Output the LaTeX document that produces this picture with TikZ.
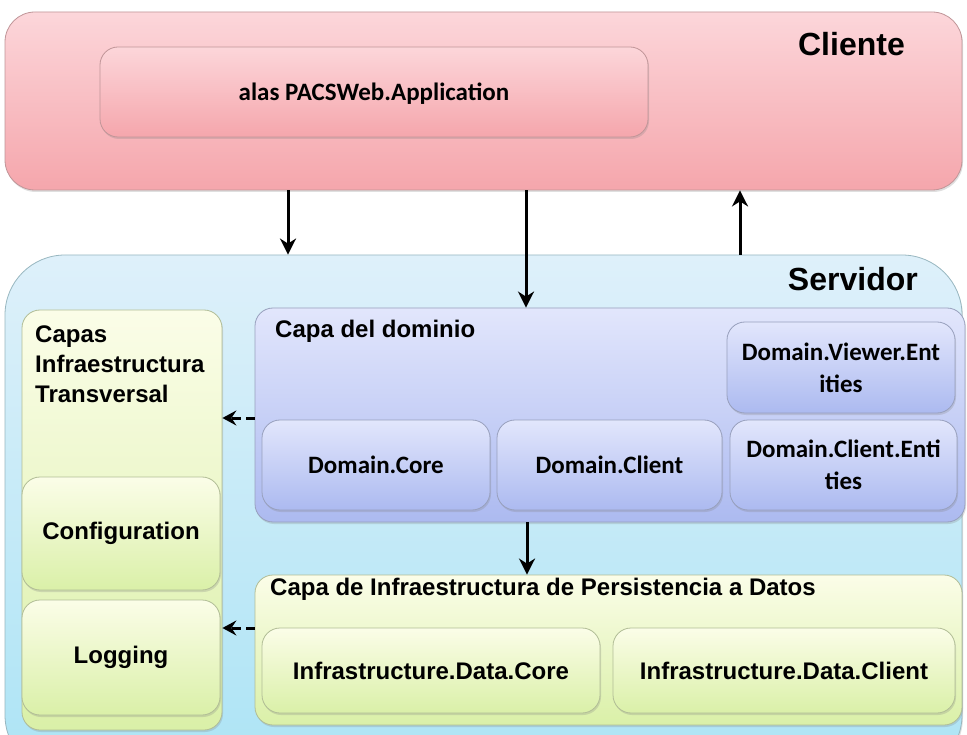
\documentclass[tikz,border=0pt]{standalone}
\usepackage{fontspec}
\setmainfont{Liberation Sans}
\newfontfamily\calibri{Carlito}
\usepackage{tikz}
\usetikzlibrary{arrows.meta,shadows}

\definecolor{rosaA}{RGB}{252,214,218}
\definecolor{rosaB}{RGB}{245,166,172}
\definecolor{celesteA}{RGB}{222,240,250}
\definecolor{celesteB}{RGB}{172,228,245}
\definecolor{lilaA}{RGB}{226,230,252}
\definecolor{lilaB}{RGB}{172,186,240}
\definecolor{verdeA}{RGB}{251,253,232}
\definecolor{verdeB}{RGB}{218,240,168}

\tikzset{
	caja/.style={inner sep=0pt, rounded corners=18pt, draw=#1!55!gray, line width=0.8pt,
		drop shadow={shadow xshift=1pt, shadow yshift=-2pt, opacity=0.25}},
	roja/.style={caja=rosaB, top color=rosaA, bottom color=rosaB},
	azul/.style={caja=lilaB, top color=lilaA, bottom color=lilaB},
	verde/.style={caja=verdeB, top color=verdeA, bottom color=verdeB},
	titulo/.style={anchor=north west, inner sep=0pt, font=\bfseries\fontsize{24}{28}\selectfont},
	grande/.style={anchor=north east, inner sep=0pt, font=\bfseries\fontsize{32}{36}\selectfont},
	letra/.style={font=\bfseries\fontsize{24}{28}\selectfont},
	letrad/.style={align=center, font=\calibri\bfseries\fontsize{25}{32}\selectfont},
	flecha/.style={line width=3pt, -{Stealth[length=16pt, width=16pt, inset=5pt]}},
	punteada/.style={line width=3pt, dash pattern=on 9pt off 5pt, -{Stealth[length=14pt, width=15pt, inset=5pt]}}
}

\begin{document}
\begin{tikzpicture}[x=1pt, y=-1pt]
	\clip (0,0) rectangle (967,735);
	\fill [white] (0,0) rectangle (967,735);
	
	% cliente
	\node [roja, rounded corners=30pt, minimum width=957pt, minimum height=178pt] (cliente) at (483.5,101) {};
	\node [roja, minimum width=548pt, minimum height=90pt, letrad, text depth=0pt] (app) at (374,92) {alas PACSWeb.Application};
	\node [grande] (tcliente) at (905,32) {Cliente};
	
	% servidor
	\node [caja=celesteB, top color=celesteA, bottom color=celesteB, rounded corners=60pt, minimum width=957pt, minimum height=520pt] (servidor) at (483.5,515) {};
	\node [grande] (tservidor) at (918,267) {Servidor};
	
	% capas transversales
	\node [verde, minimum width=200pt, minimum height=420pt] (transversal) at (122,520) {};
	\node [titulo, align=left, font=\bfseries\fontsize{24}{30}\selectfont] (ttransversal) at (35,326) {Capas\\Infraestructura\\Transversal};
	\node [verde, minimum width=198pt, minimum height=113pt, letra] (config) at (121,533.5) {Configuration};
	\node [verde, minimum width=198pt, minimum height=115pt, letra] (logging) at (121,657.5) {Logging};
	
	% dominio
	\node [azul, minimum width=710pt, minimum height=214pt] (dominio) at (610,415) {};
	\node [titulo] (tdominio) at (275,320) {Capa del dominio};
	\node [azul, minimum width=228pt, minimum height=90pt, letrad] (dcore) at (376,465) {Domain.Core};
	\node [azul, minimum width=225pt, minimum height=90pt, letrad] (dclient) at (609.5,465) {Domain.Client};
	\node [azul, minimum width=228pt, minimum height=91pt, letrad] (dviewer) at (841,367.5) {Domain.Viewer.Ent\\ities};
	\node [azul, minimum width=227pt, minimum height=90pt, letrad] (dentities) at (843.5,465) {Domain.Client.Enti\\ties};
	
	% persistencia
	\node [verde, minimum width=707pt, minimum height=150pt] (datos) at (608.5,650) {};
	\node [titulo] (tdatos) at (270,578) {Capa de Infraestructura de Persistencia a Datos};
	\node [verde, minimum width=338pt, minimum height=85pt, letra] (dcoredata) at (431,670.5) {Infrastructure.Data.Core};
	\node [verde, minimum width=342pt, minimum height=85pt, letra] (dclientdata) at (784,670.5) {Infrastructure.Data.Client};
	
	% conexiones
	\draw [flecha] (cliente.south -| 288,0) -- (servidor.north -| 288,0);
	\draw [flecha] (cliente.south -| 526,0) -- (dominio.north -| 526,0);
	\draw [flecha] (servidor.north -| 740,0) -- (cliente.south -| 740,0);
	\draw [flecha] (dominio.south -| 527,0) -- (datos.north -| 527,0);
	\draw [punteada] (dominio.west |- 0,418) -- (transversal.east |- 0,418);
	\draw [punteada] (datos.west |- 0,628) -- (transversal.east |- 0,628);
	
\end{tikzpicture}
\end{document}
